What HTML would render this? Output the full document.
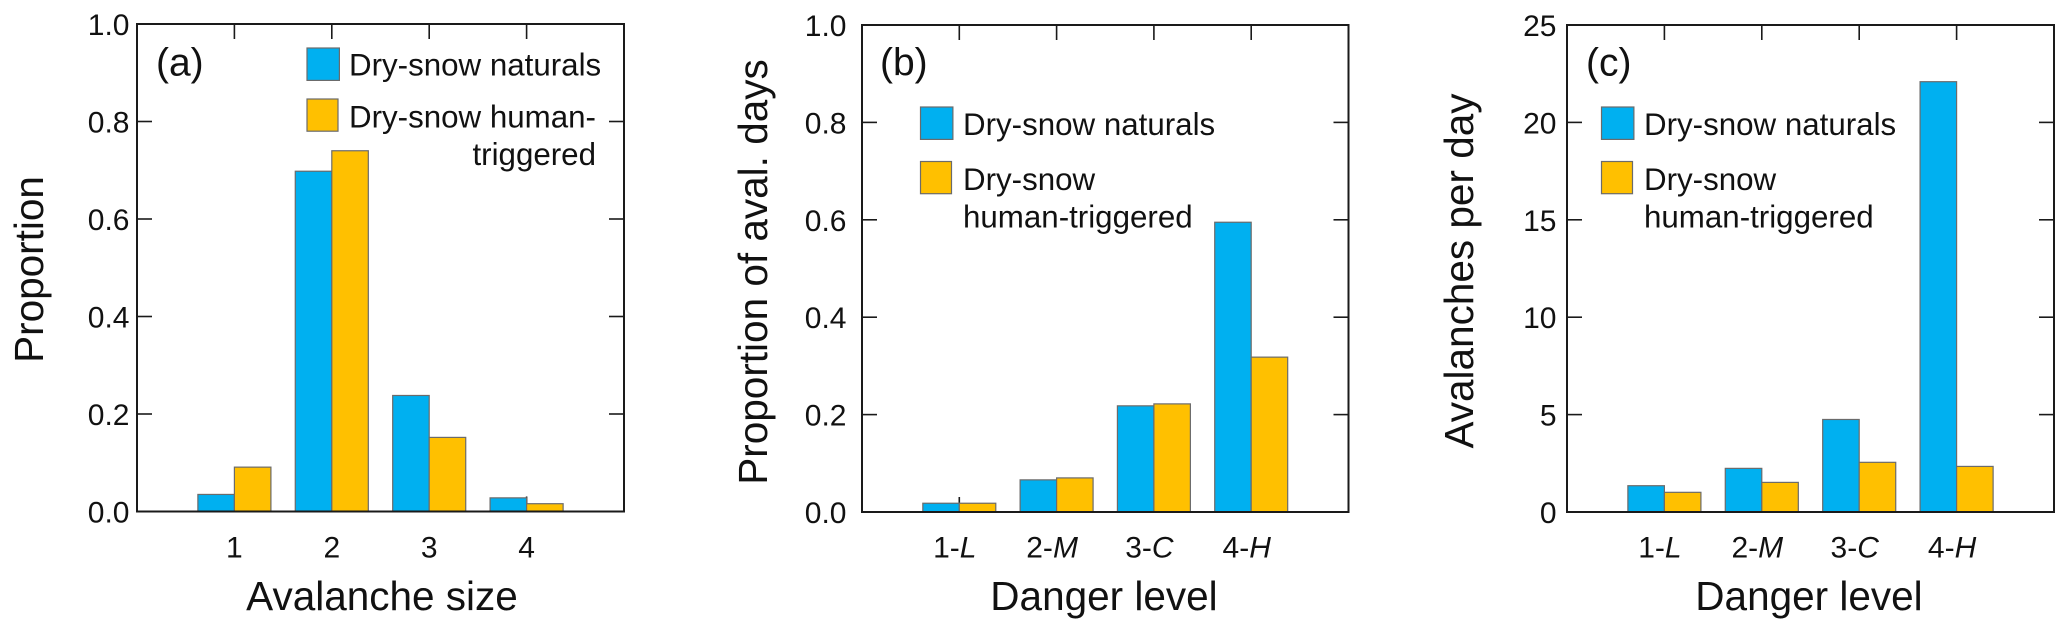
<!DOCTYPE html>
<html lang="en">
<head>
<meta charset="utf-8">
<title>Avalanche proportions by size and danger level</title>
<style>
html,body{margin:0;padding:0;background:#fff;}
body{width:2067px;height:632px;overflow:hidden;}
svg{display:block;}
text{font-family:"Liberation Sans",Arial,sans-serif;fill:#111;}
</style>
</head>
<body>
<svg id="chart" xmlns="http://www.w3.org/2000/svg" width="2067" height="632" viewBox="0 0 2067 632"></svg>
<script>
// ---- data ----
const sizeCategories = ["1", "2", "3", "4"];
const dangerCategories = ["1-L", "2-M", "3-C", "4-H"];
const proportionTicks = ["0.0", "0.2", "0.4", "0.6", "0.8", "1.0"];
const perDayTicks = ["0", "5", "10", "15", "20", "25"];
const sizeNaturals = [0.035, 0.698, 0.238, 0.028];
const sizeHuman = [0.091, 0.740, 0.152, 0.016];
const daysNaturals = [0.018, 0.066, 0.218, 0.595];
const daysHuman = [0.018, 0.070, 0.222, 0.318];
const perDayNaturals = [1.35, 2.24, 4.75, 22.09];
const perDayHuman = [1.01, 1.52, 2.55, 2.34];

const svg = document.getElementById('chart');
const NS = 'http://www.w3.org/2000/svg';
const BLUE = '#00b0f0', GOLD = '#ffc000', INK = '#1a1a1a', EDGE = '#6b6b6b';

function node(tag, attrs, parent) {
  const el = document.createElementNS(NS, tag);
  for (const k in attrs) el.setAttribute(k, attrs[k]);
  parent.appendChild(el);
  return el;
}
function txt(parent, x, y, size, anchor, str) {
  const t = node('text', {x: x, y: y, 'font-size': size, 'text-anchor': anchor}, parent);
  t.textContent = str;
  return t;
}
function dangerLabel(parent, x, y, size, label) {
  const t = node('text', {x: x, y: y, 'font-size': size, 'text-anchor': 'middle'}, parent);
  const parts = label.split('-');
  t.appendChild(document.createTextNode(parts[0] + '-'));
  const s = node('tspan', {'font-style': 'italic'}, t);
  s.textContent = parts[1];
  return t;
}

function drawPanel(p) {
  const g = node('g', {}, svg);
  
  
  const W = p.right - p.left, H = p.bottom - p.top;
  const n = p.categories.length;
  const xScale = i => p.left + (i + 1) * W / (n + 1);
  const yMax = parseFloat(p.ticks[p.ticks.length - 1]);
  const yScale = v => p.bottom - (v / yMax) * H;
  const barW = W / (n + 1) * 0.375;

  // ticks (drawn below the bars)
  const tickG = node('g', {stroke: INK, 'stroke-width': 1.6}, g);
  
  
  p.categories.forEach((c, i) => {
    const x = xScale(i);
    node('line', {x1: x, x2: x, y1: p.top, y2: p.top + 15}, tickG);
    node('line', {x1: x, x2: x, y1: p.bottom, y2: p.bottom - 15}, tickG);
  });
  p.ticks.forEach(t => {
    const y = yScale(parseFloat(t));
    node('line', {x1: p.left, x2: p.left + 15, y1: y, y2: y}, tickG);
    node('line', {x1: p.right, x2: p.right - 15, y1: y, y2: y}, tickG);
  });

  // bars
  p.categories.forEach((c, i) => {
    const x = xScale(i);
    const yA = yScale(p.naturals[i]), yB = yScale(p.human[i]);
    const a = node('rect', {x: x - barW, y: yA, width: barW, height: p.bottom - yA, fill: BLUE, stroke: EDGE, 'stroke-width': 1.2}, g);
    
    
    const b = node('rect', {x: x, y: yB, width: barW, height: p.bottom - yB, fill: GOLD, stroke: EDGE, 'stroke-width': 1.2}, g);
    
    
  });

  // frame
  const frame = node('rect', {x: p.left, y: p.top, width: W, height: H, fill: 'none', stroke: INK, 'stroke-width': 2}, g);
  
  

  // tick labels
  p.ticks.forEach(t => {
    const el = txt(g, p.yLabelEnd, yScale(parseFloat(t)) + 11, 30, 'end', t);
    
    
  });
  p.categories.forEach((c, i) => {
    const x = xScale(i) + p.xLabelShift;
    const el = c.indexOf('-') >= 0 ? dangerLabel(g, x, 557.5, 30, c) : txt(g, x, 557.5, 30, 'middle', c);
    
    
  });

  // axis titles
  const xt = txt(g, p.xTitleX, 610, 40.5, 'middle', p.xTitle);
  
  
  const yt = txt(g, 0, 0, 40.5, 'middle', p.yTitle);
  yt.setAttribute('transform', 'translate(' + p.yTitleX + ' ' + p.yTitleY + ') rotate(-90)');
  
  

  // panel letter
  const pl = txt(g, p.letterX, 75.5, 39, 'start', p.letter);
  
  

  // legend
  const lg = node('g', {}, g);
  
  
  const s1 = node('rect', {x: p.legX, y: p.leg1Y, width: 32.4, height: 32.4, fill: BLUE, stroke: EDGE, 'stroke-width': 1.2}, lg);
  
  
  const s2 = node('rect', {x: p.legX, y: p.leg2Y, width: 31, height: 32.2, fill: GOLD, stroke: EDGE, 'stroke-width': 1.2}, lg);
  
  
  p.legendLines.forEach(l => {
    const t = txt(lg, l.x, l.y, 31.3, l.anchor, l.text);
    
    
  });
}

drawPanel({
  id: 'size', left: 137, right: 624, top: 24, bottom: 511.5,
  categories: sizeCategories, ticks: proportionTicks, naturals: sizeNaturals, human: sizeHuman,
  yLabelEnd: 129.5, xLabelShift: 0,
  xTitle: 'Avalanche size', xTitleX: 382, yTitle: 'Proportion', yTitleX: 43, yTitleY: 269.5,
  letter: '(a)', letterX: 156,
  legX: 307, leg1Y: 48, leg2Y: 99,
  legendLines: [
    {x: 349, y: 75.5, anchor: 'start', text: 'Dry-snow naturals'},
    {x: 349, y: 127.5, anchor: 'start', text: 'Dry-snow human-'},
    {x: 596, y: 165, anchor: 'end', text: 'triggered'}
  ]
});
drawPanel({
  id: 'days', left: 862, right: 1348.5, top: 25, bottom: 512,
  categories: dangerCategories, ticks: proportionTicks, naturals: daysNaturals, human: daysHuman,
  yLabelEnd: 846.5, xLabelShift: -4.5,
  xTitle: 'Danger level', xTitleX: 1104, yTitle: 'Proportion of aval. days', yTitleX: 767, yTitleY: 272,
  letter: '(b)', letterX: 880,
  legX: 920.5, leg1Y: 107, leg2Y: 161.5,
  legendLines: [
    {x: 963, y: 135, anchor: 'start', text: 'Dry-snow naturals'},
    {x: 963, y: 190, anchor: 'start', text: 'Dry-snow'},
    {x: 963, y: 227.5, anchor: 'start', text: 'human-triggered'}
  ]
});
drawPanel({
  id: 'per-day', left: 1567, right: 2054, top: 25, bottom: 512,
  categories: dangerCategories, ticks: perDayTicks, naturals: perDayNaturals, human: perDayHuman,
  yLabelEnd: 1556.5, xLabelShift: -4.5,
  xTitle: 'Danger level', xTitleX: 1809, yTitle: 'Avalanches per day', yTitleX: 1473, yTitleY: 271,
  letter: '(c)', letterX: 1586,
  legX: 1601.5, leg1Y: 107, leg2Y: 161.5,
  legendLines: [
    {x: 1644, y: 135, anchor: 'start', text: 'Dry-snow naturals'},
    {x: 1644, y: 190, anchor: 'start', text: 'Dry-snow'},
    {x: 1644, y: 227.5, anchor: 'start', text: 'human-triggered'}
  ]
});
</script>
</body>
</html>
